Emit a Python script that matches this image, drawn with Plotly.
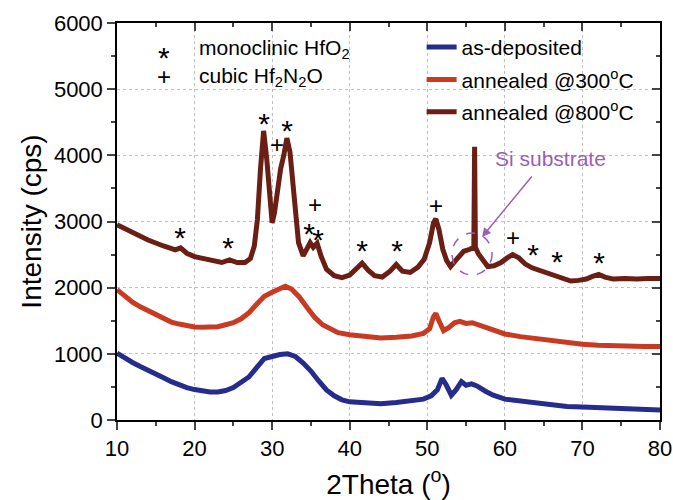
import plotly.graph_objects as go

# ---- data ----
x_800 = [10, 12, 14, 16, 17.5, 18.2, 19, 20, 22, 23.5, 24.5, 25.5, 26.5, 27.2, 27.7, 28.1, 28.5, 28.9,
         29.3, 29.7, 30.0, 30.3, 30.7, 31.1, 31.5, 31.9, 32.3, 32.8, 33.4, 34.0, 34.5, 34.9, 35.3, 35.8,
         36.3, 37.0, 38.0, 39.0, 40.0, 40.8, 41.6, 42.4, 43.2, 44.2, 45.2, 46.0, 46.8, 47.8, 48.8, 49.6,
         50.3, 50.8, 51.1, 51.5, 52.0, 52.5, 53.0, 53.8, 54.7, 55.5, 56.0, 56.1, 56.2, 56.6, 57.2, 57.8,
         58.6, 59.5, 60.3, 61.0, 61.8, 62.6, 63.5, 64.5, 65.5, 66.5, 67.5, 68.5, 69.5, 70.5, 71.3, 72.1,
         72.9, 74.0, 75.5, 77, 78.5, 80]
y_800 = [2950, 2830, 2720, 2630, 2570, 2600, 2520, 2470, 2410, 2380, 2420, 2380, 2380, 2440, 2630, 3030,
         3800, 4370, 3950, 3240, 2980, 3130, 3540, 3800, 4000, 4260, 4050, 3440, 2680, 2480, 2590, 2680,
         2610, 2670, 2480, 2280, 2180, 2150, 2190, 2280, 2370, 2260, 2180, 2160, 2250, 2350, 2250, 2230,
         2310, 2430, 2680, 2980, 3040, 2880, 2580, 2410, 2320, 2430, 2550, 2580, 2610, 4130, 2610, 2510,
         2400, 2320, 2330, 2380, 2450, 2500, 2450, 2360, 2300, 2260, 2230, 2190, 2140, 2100, 2110, 2130,
         2170, 2200, 2160, 2130, 2140, 2130, 2140, 2140]

x_300 = [10, 11, 12, 13, 14, 15, 16, 17, 18, 19, 20, 21, 22, 23, 24, 25, 26, 27, 28, 29, 30, 31, 31.7,
         32.5, 33.5, 34.5, 35.5, 36.5, 37.5, 38.5, 40, 42, 44, 46, 48, 49.5, 50.3, 50.8, 51.1, 51.5, 52.1,
         52.8, 53.5, 54.2, 55, 55.8, 56.6, 57.5, 58.5, 60, 62, 64, 66, 68, 70, 72, 74, 76, 78, 80]
y_300 = [1970, 1870, 1780, 1710, 1650, 1580, 1520, 1480, 1450, 1420, 1405, 1400, 1400, 1410, 1440, 1470,
         1530, 1620, 1750, 1870, 1930, 1990, 2020, 1980, 1860, 1700, 1550, 1440, 1370, 1320, 1290, 1260,
         1240, 1250, 1270, 1310, 1380, 1560, 1610, 1500, 1350, 1400, 1470, 1490, 1460, 1470, 1440, 1390,
         1350, 1300, 1260, 1230, 1200, 1170, 1145, 1130, 1120, 1110, 1110, 1110]

x_dep = [10, 11, 12, 13, 14, 15, 16, 17, 18, 19, 20, 21, 22, 23, 24, 25, 26, 27, 28, 28.6, 29.0, 30, 31,
         32, 33, 34, 35, 36, 37, 38, 39, 40, 42, 44, 46, 48, 49.5, 50.5, 51.3, 51.9, 52.4, 53.1, 53.7,
         54.4, 55.0, 55.7, 56.4, 57.5, 58.5, 60, 62, 64, 66, 68, 70, 72, 74, 76, 78, 80]
y_dep = [1010, 930, 870, 810, 760, 700, 640, 580, 530, 490, 460, 440, 425, 425, 445, 490, 560, 650, 790,
         880, 930, 960, 990, 1000, 960, 860, 740, 590, 455, 365, 305, 275, 255, 245, 265, 285, 315, 365,
         455, 630, 540, 375, 455, 580, 525, 545, 515, 435, 375, 315, 285, 255, 225, 205, 195, 185, 165,
         155, 150, 150]

star_x = [18.12, 24.31, 28.95, 31.92, 34.75, 35.91, 41.58, 46.10, 63.63, 66.72, 72.14]
star_y = [2826, 2675, 4549, 4443, 2886, 2796, 2630, 2630, 2569, 2463, 2448]
plus_x = [30.63, 35.53, 51.12, 61.05]
plus_y = [4126, 3219, 3204, 2720]

x_ticks = [10, 20, 30, 40, 50, 60, 70, 80]
y_ticks = [0, 1000, 2000, 3000, 4000, 5000, 6000]

FONT = "Liberation Sans, Arial, sans-serif"
PURPLE = "#9b5fb5"
STAR_SHIFT = 110   # glyph '*' sits high in its text box

fig = go.Figure()
fig.add_trace(go.Scatter(x=x_dep, y=y_dep, mode="lines", name="as-deposited",
                         line=dict(color="#262c8c", width=5), legendgroup="a"))
fig.add_trace(go.Scatter(x=x_300, y=y_300, mode="lines", name="annealed @300<sup>o</sup>C",
                         line=dict(color="#c83a22", width=5), legendgroup="b"))
fig.add_trace(go.Scatter(x=x_800, y=y_800, mode="lines", name="annealed @800<sup>o</sup>C",
                         line=dict(color="#6b1f14", width=5), legendgroup="c"))
fig.add_trace(go.Scatter(x=star_x, y=[v - STAR_SHIFT for v in star_y], mode="text", text=["*"] * len(star_x),
                         textposition="middle center", textfont=dict(family=FONT, size=30, color="black"),
                         showlegend=False, hoverinfo="skip"))
fig.add_trace(go.Scatter(x=plus_x, y=plus_y, mode="text", text=["+"] * len(plus_x),
                         textposition="middle center", textfont=dict(family=FONT, size=24, color="black"),
                         showlegend=False, hoverinfo="skip"))
# invisible trace so the mirrored (inside-tick) top/right axes are drawn
fig.add_trace(go.Scatter(x=[10], y=[0], xaxis="x2", yaxis="y2", mode="markers",
                         marker=dict(opacity=0), showlegend=False, hoverinfo="skip"))

# Si substrate ellipse + arrow + label
fig.add_shape(type="circle", xref="x", yref="y", x0=53.19, x1=58.35, y0=2191, y1=2826,
              line=dict(color=PURPLE, width=1.5, dash="dash"))
fig.add_annotation(x=57.05, y=2766, ax=63.63, ay=3703, xref="x", yref="y", axref="x", ayref="y",
                   text="", showarrow=True, arrowhead=2, arrowsize=1.2, arrowwidth=1.5, arrowcolor=PURPLE)
fig.add_annotation(x=65.82, y=3959, xref="x", yref="y", text="Si substrate", showarrow=False,
                   font=dict(family=FONT, size=21, color=PURPLE))

# top-left key
fig.add_annotation(x=16.06, y=5607 - 130, xref="x", yref="y", text="*", showarrow=False,
                   font=dict(family=FONT, size=30, color="black"))
fig.add_annotation(x=20.31, y=5607, xref="x", yref="y", text="monoclinic HfO<sub>2</sub>", showarrow=False,
                   xanchor="left", font=dict(family=FONT, size=21, color="black"))
fig.add_annotation(x=16.06, y=5184, xref="x", yref="y", text="+", showarrow=False,
                   font=dict(family=FONT, size=24, color="black"))
fig.add_annotation(x=20.31, y=5184, xref="x", yref="y", text="cubic Hf<sub>2</sub>N<sub>2</sub>O", showarrow=False,
                   xanchor="left", font=dict(family=FONT, size=21, color="black"))

grid = dict(showgrid=True, gridcolor="#c0c0c0", gridwidth=1, griddash="dot")
fig.update_layout(
    width=673, height=500,
    margin=dict(l=117, r=13, t=23, b=80, autoexpand=False),
    paper_bgcolor="white", plot_bgcolor="white",
    font=dict(family=FONT, size=22, color="black"),
    showlegend=True,
    legend=dict(x=0.561, y=0.99, xanchor="left", yanchor="top", bgcolor="rgba(0,0,0,0)",
                font=dict(family=FONT, size=21, color="black"), traceorder="grouped", tracegroupgap=2),
    xaxis=dict(range=[10, 80], tickvals=x_ticks, ticks="outside", ticklen=8, tickwidth=1.5,
               showline=True, linecolor="black", linewidth=1.5, zeroline=False, automargin=False,
               minor=dict(ticks="outside", dtick=5, ticklen=4, tickwidth=1.5, showgrid=False),
               title=dict(text="2Theta (<sup>o</sup>)", font=dict(family=FONT, size=28), standoff=16),
               tickfont=dict(family=FONT, size=22), **grid),
    yaxis=dict(range=[0, 6000], tickvals=y_ticks, ticks="outside", ticklen=8, tickwidth=1.5,
               showline=True, linecolor="black", linewidth=1.5, zeroline=False, automargin=False,
               minor=dict(ticks="outside", dtick=500, ticklen=4, tickwidth=1.5, showgrid=False),
               title=dict(text="Intensity (cps)", font=dict(family=FONT, size=28), standoff=4),
               tickfont=dict(family=FONT, size=22), **grid),
    xaxis2=dict(range=[10, 80], overlaying="x", side="top", tickvals=x_ticks, ticks="inside", ticklen=8,
                tickwidth=1.5, showline=True, linecolor="black", linewidth=1.5, showticklabels=False,
                showgrid=False, zeroline=False, automargin=False,
                minor=dict(ticks="inside", dtick=5, ticklen=4, tickwidth=1.5, showgrid=False)),
    yaxis2=dict(range=[0, 6000], overlaying="y", side="right", tickvals=y_ticks, ticks="inside", ticklen=8,
                tickwidth=1.5, showline=True, linecolor="black", linewidth=1.5, showticklabels=False,
                showgrid=False, zeroline=False, automargin=False,
                minor=dict(ticks="inside", dtick=500, ticklen=4, tickwidth=1.5, showgrid=False)),
)
fig.write_html("out.html")
